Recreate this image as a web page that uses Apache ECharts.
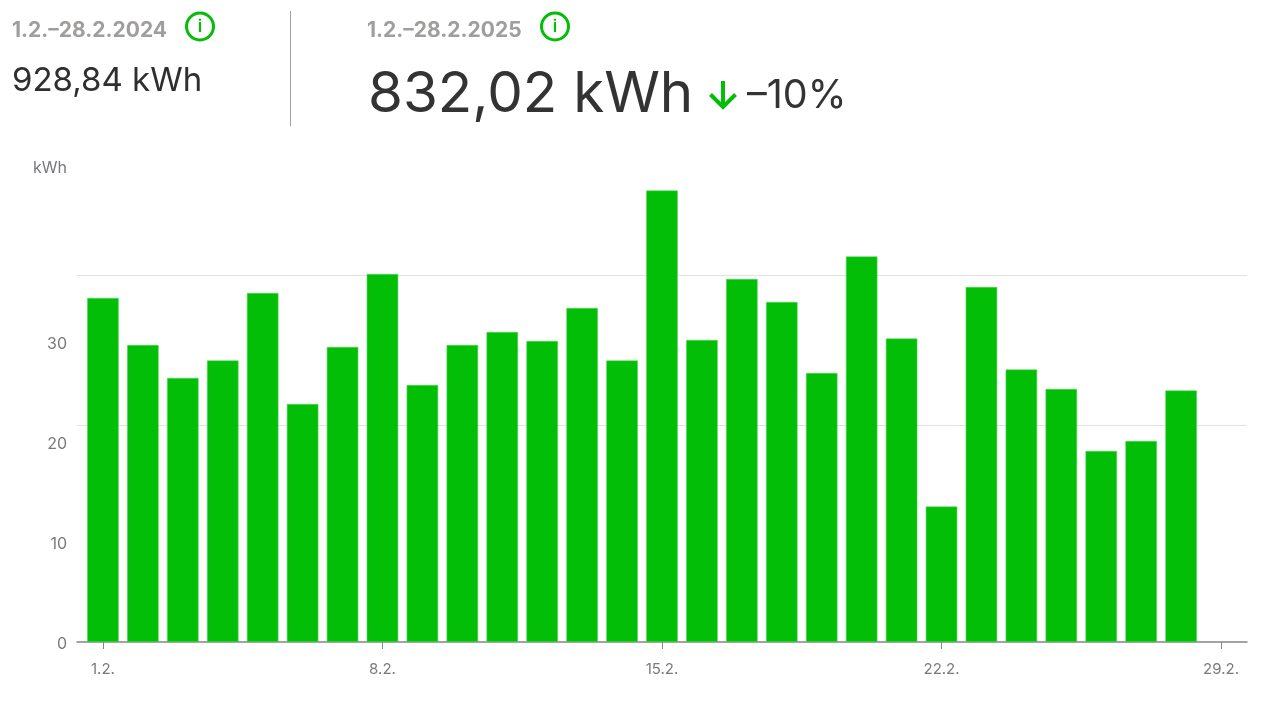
<!DOCTYPE html>
<html>
<head>
<meta charset="utf-8">
<title>kWh</title>
<style>
  html, body { margin: 0; padding: 0; background: #fff; }
  #chart { width: 1262px; height: 703px; }
</style>
<script src="https://cdn.jsdelivr.net/npm/echarts@6/dist/echarts.min.js"></script>
</head>
<body>
<div id="chart"></div>
<script>
const days = [1, 2, 3, 4, 5, 6, 7, 8, 9, 10, 11, 12, 13, 14, 15, 16, 17, 18, 19, 20, 21, 22, 23, 24, 25, 26, 27, 28];
const kwh = [34.4, 29.7, 26.4, 28.15, 34.9, 23.8, 29.5, 36.8, 25.7, 29.7, 31.0, 30.1, 33.4, 28.15, 45.15, 30.2, 36.3, 34.0, 26.9, 38.55, 30.35, 13.55, 35.5, 27.25, 25.3, 19.1, 20.1, 25.15];
const xTickDays = [1, 8, 15, 22, 29];
const yTicks = [0, 10, 20, 30];
const gridLevels = [21.7, 36.7];

const prevPeriod = '1.2.–28.2.2024';
const prevTotal = '928,84 kWh';
const currPeriod = '1.2.–28.2.2025';
const currTotal = '832,02 kWh';
const change = '–10%';

const green = '#02be06';
const font = 'Inter';

function label(x, y, text, size, color, weight) {
    return {
        type: 'text', x: x, y: y,
        style: { text: text, fontFamily: font, fontSize: size, fontWeight: weight || 400, fill: color, verticalAlign: 'middle' }
    };
}

function infoIcon(cx, cy) {
    return [
        { type: 'circle', shape: { cx: cx, cy: cy, r: 13.5 }, style: { fill: '#fff', stroke: green, lineWidth: 3 } },
        { type: 'text', x: cx, y: cy, style: { text: 'i', fontFamily: font, fontSize: 17, fontWeight: 600, fill: green, align: 'center', verticalAlign: 'middle' } }
    ];
}

const chart = echarts.init(document.getElementById('chart'));
chart.setOption({
    animation: false,
    backgroundColor: '#fff',
    grid: { left: 77, right: 15, top: 172, bottom: 61 },
    xAxis: {
        type: 'value',
        min: 0.35,
        max: 29.65,
        splitLine: { show: false },
        axisLine: { show: true, onZero: false, lineStyle: { color: '#858585', width: 1.5 } },
        axisTick: { show: true, length: 7, customValues: xTickDays, lineStyle: { color: '#858585', width: 1 } },
        axisLabel: {
            customValues: xTickDays,
            formatter: v => v + '.2.',
            margin: 20,
            fontFamily: font,
            fontSize: 15,
            color: '#7a7a7a'
        }
    },
    yAxis: {
        type: 'value',
        min: 0,
        max: 47,
        name: 'kWh',
        nameLocation: 'end',
        nameGap: -4,
        nameTextStyle: { fontFamily: font, fontSize: 16, color: '#77787c', align: 'right', padding: [0, 10, 0, 0] },
        splitLine: { show: false },
        axisLine: { show: false },
        axisTick: { show: false },
        axisLabel: {
            customValues: yTicks,
            margin: 10,
            formatter: v => '{n|' + v + '}',
            rich: {
                n: { padding: [4, 0, 0, 0], fontFamily: font, fontSize: 16, color: '#7a7a7a' }
            }
        }
    },
    series: [{
        type: 'bar',
        barWidth: 31.5,
        data: days.map((d, i) => [d, kwh[i]]),
        itemStyle: { color: green, borderColor: '#4fd853', borderWidth: 0.6 },
        markLine: {
            silent: true,
            z: 1,
            symbol: 'none',
            label: { show: false },
            lineStyle: { color: '#e2e2e2', width: 1, type: 'solid' },
            data: gridLevels.map(v => ({ yAxis: v }))
        }
    }],
    graphic: [
        label(12, 31, prevPeriod, 21, '#a09e9c', 700),
        ...infoIcon(200, 26.5),
        label(12, 81, prevTotal, 33, '#2f2f2f'),
        { type: 'line', shape: { x1: 290.5, y1: 11, x2: 290.5, y2: 126 }, style: { stroke: '#a0a0a0', lineWidth: 1 } },
        label(367, 31, currPeriod, 21, '#a09e9c', 700),
        ...infoIcon(555, 26.5),
        label(368, 95, currTotal, 56.5, '#333333'),
        { type: 'polyline', shape: { points: [[723, 81], [723, 107]] }, style: { stroke: green, lineWidth: 4, fill: null } },
        { type: 'polyline', shape: { points: [[710.5, 94.5], [723, 107], [735.5, 94.5]] }, style: { stroke: green, lineWidth: 4, fill: null } },
        label(747, 96, change, 39.5, '#333333')
    ]
});
</script>
</body>
</html>
